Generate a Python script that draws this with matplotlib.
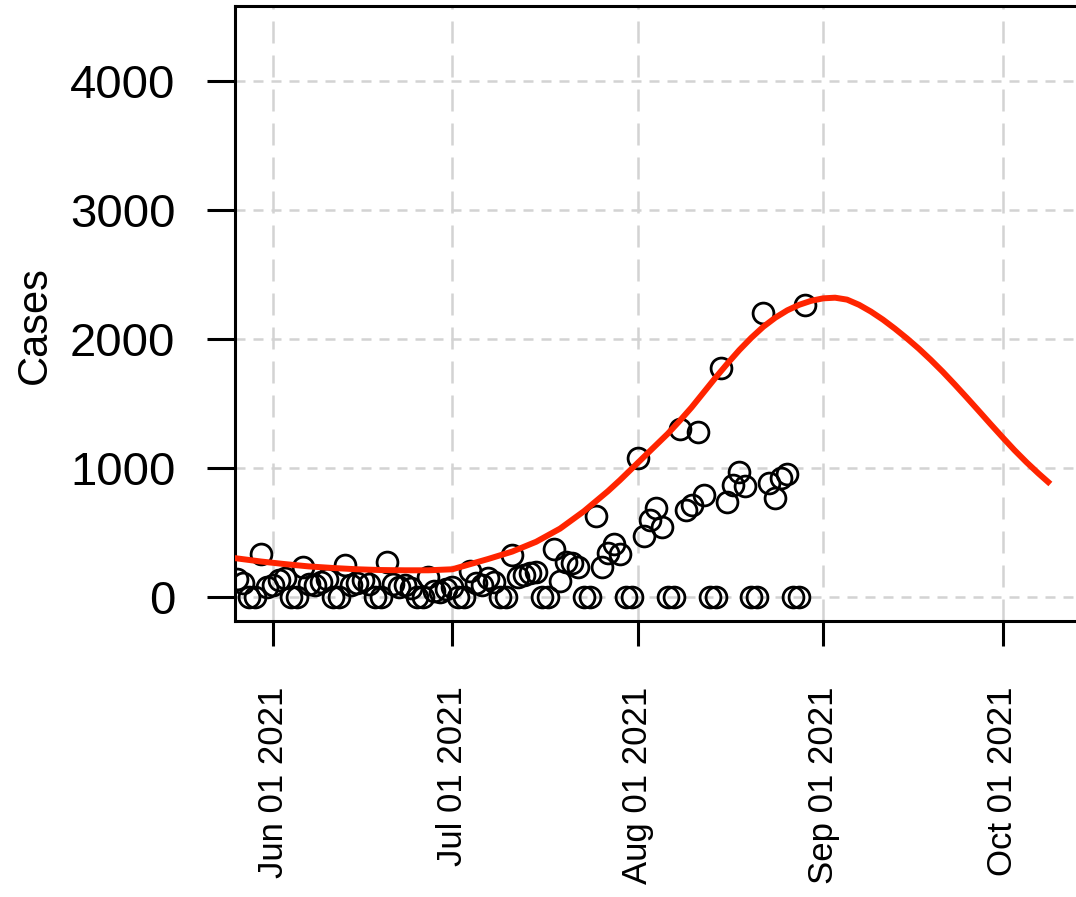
import pandas as pd
import numpy as np
import matplotlib
matplotlib.use('Agg')
import matplotlib.pyplot as plt
import matplotlib.dates as mdates

plt.rcParams['font.family'] = ['Liberation Sans', 'DejaVu Sans']

# --- Daily reported cases (26 May - 29 Aug 2021) ---
case_dates = pd.date_range('2021-05-26', '2021-08-29', freq='D')
cases = [
    140, 110, 0, 0, 330, 80, 95, 135, 150,
    0, 0, 235, 100, 90, 120, 140,
    0, 0, 250, 90, 110, 130, 100,
    0, 0, 270, 100, 80, 90, 70,
    0, 0, 155, 50, 40, 60, 80,
    0, 0, 200, 110, 90, 145, 120,
    0, 0, 326, 155, 171, 186, 194,
    0, 0, 375, 125, 270, 264, 233,
    0, 0, 630, 230, 340, 410, 330,
    0, 0, 1078, 470, 600, 690, 540,
    0, 0, 1305, 675, 710, 1278, 790,
    0, 0, 1775, 740, 870, 970, 860,
    0, 0, 2205, 880, 770, 920, 955,
    0, 0, 2265,
]

# --- Fitted curve (days from 1 Jun 2021, expected cases) ---
fit_days = [-7, -2, 2, 6, 10, 14, 18, 22, 26, 30, 33, 36, 40, 44, 48, 52,
            56, 58, 60, 62, 64, 66, 68, 70, 72, 74, 76, 78, 80, 82, 84, 86,
            88, 90, 92, 94, 96, 98, 100, 102, 104, 106, 108, 110, 112, 114,
            116, 118, 120, 122, 124, 126, 128, 130]
fit_cases = [305, 275, 255, 237, 225, 215, 209, 207, 207, 215, 255, 295,
             352, 428, 530, 665,
             820, 905, 995, 1085, 1175, 1265, 1365, 1470, 1585, 1700, 1810,
             1915, 2010, 2095, 2165, 2222,
             2265, 2296, 2315, 2320, 2305, 2265, 2212, 2150, 2080, 2005,
             1925, 1838, 1746, 1648,
             1547, 1444, 1340, 1238, 1138, 1045, 958, 876]

origin = pd.Timestamp('2021-06-01')
fit_dates = [origin + pd.Timedelta(days=d) for d in fit_days]

month_ticks = pd.to_datetime(['2021-06-01', '2021-07-01', '2021-08-01',
                              '2021-09-01', '2021-10-01'])
y_ticks = [0, 1000, 2000, 3000, 4000]

# --- Figure ---
W, H = 1076, 897
fig = plt.figure(figsize=(W / 100, H / 100), dpi=100)
left, right, top, bottom = 235, 1100, 6, 621
ax = fig.add_axes([left / W, 1 - bottom / H, (right - left) / W, (bottom - top) / H])

ax.set_xlim(origin - pd.Timedelta(days=6.36), origin + pd.Timedelta(days=138.3))
ax.set_ylim(-186, 4581)

# grid: dashed verticals at month starts, short dashes for the horizontals
for t in month_ticks:
    ax.axvline(t, color='#d3d3d3', lw=1.8, ls=(0, (8.8, 4.8)), zorder=0)
for v in y_ticks:
    ax.axhline(v, color='#d3d3d3', lw=1.8, ls=(0, (4, 3.2)), zorder=0)

ax.plot(case_dates, cases, 'o', mfc='none', mec='black', ms=15, mew=2.0,
        zorder=2)
ax.plot(fit_dates, fit_cases, color='#ff2400', lw=4.3, zorder=3,
        solid_capstyle='butt', solid_joinstyle='round')

ax.set_xticks(month_ticks)
ax.xaxis.set_major_formatter(mdates.DateFormatter('%b %d %Y'))
ax.set_yticks(y_ticks)
ax.tick_params(axis='x', direction='out', length=18, width=2.2, pad=29,
               labelsize=25, labelrotation=90)
ax.tick_params(axis='y', direction='out', length=20, width=2.2, pad=23,
               labelsize=34)

for s in ax.spines.values():
    s.set_linewidth(2.2)

fig.text(35 / W, 1 - 325 / H, 'Cases', rotation=90, ha='center', va='center',
         fontsize=30)

fig.savefig('out.png', dpi=100)
